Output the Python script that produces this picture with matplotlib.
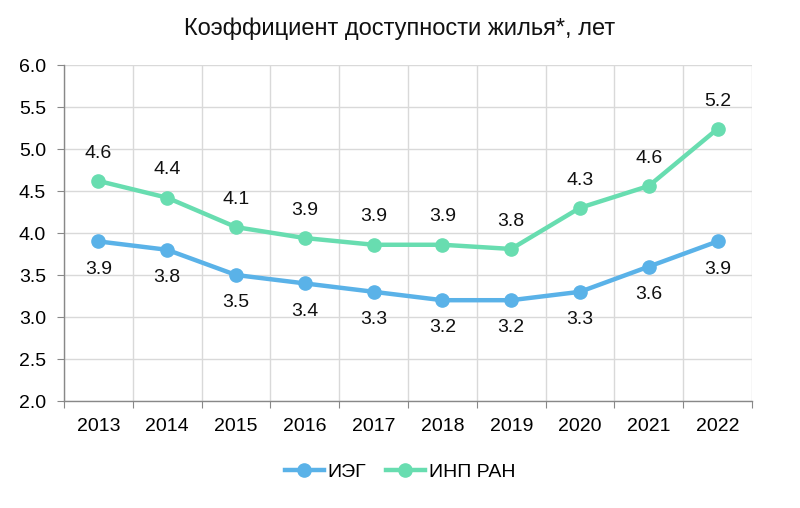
import matplotlib
matplotlib.use("Agg")
import matplotlib.pyplot as plt

years = ["2013", "2014", "2015", "2016", "2017", "2018", "2019", "2020", "2021", "2022"]
ieg = [3.9, 3.8, 3.5, 3.4, 3.3, 3.2, 3.2, 3.3, 3.6, 3.9]
inp = [4.62, 4.42, 4.07, 3.94, 3.86, 3.86, 3.81, 4.30, 4.56, 5.24]
title = "Коэффициент доступности жилья*, лет"
yticks = [2.0, 2.5, 3.0, 3.5, 4.0, 4.5, 5.0, 5.5, 6.0]

c_ieg = "#5AB2E8"
c_inp = "#68DDB0"
font = "Liberation Sans"

fig = plt.figure(figsize=(8, 5.08), dpi=100)
ax = fig.add_axes([64/800, 1 - 401/508, (752-64)/800, (401-65)/508])

x = list(range(len(years)))
ax.plot(x, ieg, color=c_ieg, lw=3.2, marker="o", ms=9.5, label="ИЭГ", zorder=3)
ax.plot(x, inp, color=c_inp, lw=3.2, marker="o", ms=9.5, label="ИНП РАН", zorder=3)

fs = 14
for xi, v in zip(x, ieg):
    ax.annotate(f"{v:.1f}", (xi, v), xytext=(0, -20), textcoords="offset points",
                ha="center", va="center", fontsize=fs, family=font, color="#111111")
for xi, v in zip(x, inp):
    ax.annotate(f"{v:.1f}", (xi, v), xytext=(0, 20), textcoords="offset points",
                ha="center", va="center", fontsize=fs, family=font, color="#111111")

ax.set_xlim(-0.5, len(years) - 0.5)
ax.set_ylim(2.0, 6.0)
ax.set_yticks(yticks)
ax.set_yticklabels([f"{t:.1f}" for t in yticks], family=font, fontsize=fs)
ax.set_xticks([i - 0.5 for i in range(len(years) + 1)])
ax.set_xticklabels([])
ax.set_xticks(x, minor=True)
ax.set_xticklabels(years, minor=True, family=font, fontsize=fs)
ax.tick_params(axis="x", which="minor", length=0, pad=12)
ax.tick_params(axis="x", which="major", length=5, color="#888888", direction="out")
ax.tick_params(axis="y", length=5, color="#888888", direction="out", pad=8)

ax.grid(True, which="major", color="#d9d9d9", lw=1)
ax.set_axisbelow(True)
for s in ["top", "right"]:
    ax.spines[s].set_visible(False)
for s in ["left", "bottom"]:
    ax.spines[s].set_color("#888888")
    ax.spines[s].set_linewidth(1)

fig.text(0.5, 1 - 29/508, title, ha="center", va="center", fontsize=17,
         family=font, color="#111111")

leg = fig.legend(loc="center", bbox_to_anchor=(0.5, 1 - 472/508), ncol=2, frameon=False,
                 prop={"family": font, "size": fs}, handlelength=2.0,
                 columnspacing=1.0, handletextpad=0.2)

fig.savefig("out.png", dpi=100, facecolor="white")
